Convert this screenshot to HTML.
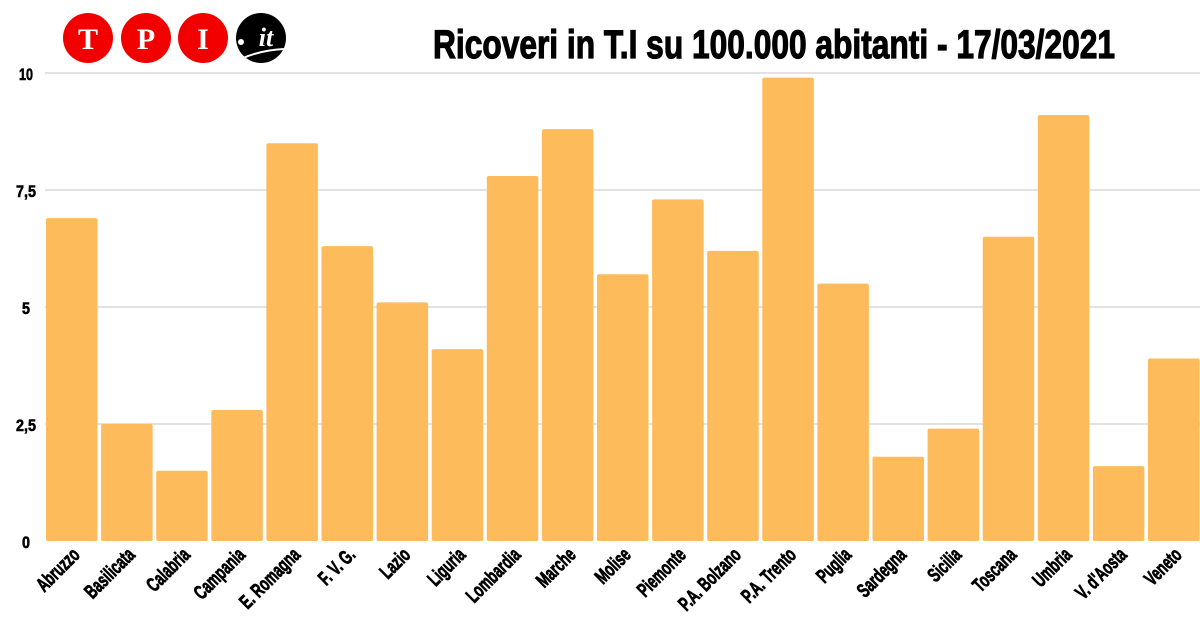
<!DOCTYPE html>
<html><head><meta charset="utf-8"><style>body{margin:0;background:#fff}svg{display:block}</style></head>
<body>
<svg width="1200" height="630" xmlns="http://www.w3.org/2000/svg" font-family="'Liberation Sans',sans-serif" font-weight="bold">
<rect width="1200" height="630" fill="#fff"/>
<g stroke="#d9d9d9" stroke-width="1.5">
<line x1="45" x2="1200" y1="73" y2="73"/><line x1="45" x2="1200" y1="190" y2="190"/>
<line x1="45" x2="1200" y1="307" y2="307"/><line x1="45" x2="1200" y1="424" y2="424"/>
</g>
<g font-size="17" fill="#000" stroke="#000" stroke-width="0.6" text-anchor="middle">
<text x="26" y="80" textLength="14" lengthAdjust="spacingAndGlyphs">10</text>
<text x="26" y="197" textLength="20" lengthAdjust="spacingAndGlyphs">7,5</text>
<text x="26" y="314" textLength="8" lengthAdjust="spacingAndGlyphs">5</text>
<text x="26" y="431" textLength="20" lengthAdjust="spacingAndGlyphs">2,5</text>
<text x="26" y="548" textLength="8" lengthAdjust="spacingAndGlyphs">0</text>
</g>
<g id="bars" fill="#fdbb5b"></g>
<g id="labels" font-size="20" fill="#000" stroke="#000" stroke-width="0.8"></g>
<g font-family="'Liberation Serif',serif" font-weight="bold" font-size="30" text-anchor="middle" fill="#fff">
<circle cx="88" cy="38" r="25" fill="#f20000"/><text x="88" y="49">T</text>
<circle cx="146" cy="38" r="25" fill="#f20000"/><text x="146" y="49">P</text>
<circle cx="203" cy="38" r="25" fill="#f20000"/><text x="203" y="49">I</text>
<circle cx="261" cy="38" r="25" fill="#000"/><text x="266" y="46" font-style="italic" font-size="26">it</text>
<circle cx="241" cy="42" r="3" fill="#fff"/>
<path d="M243 58 Q262 50 284 49" stroke="#fff" stroke-width="2" fill="none"/>
</g>
<text x="433" y="58" font-size="40" fill="#000" stroke="#000" stroke-width="1.2" textLength="682" lengthAdjust="spacingAndGlyphs">Ricoveri in T.I su 100.000 abitanti - 17/03/2021</text>
<script>
var d=[["Abruzzo",6.9],["Basilicata",2.5],["Calabria",1.5],["Campania",2.8],["E. Romagna",8.5],["F. V. G.",6.3],["Lazio",5.1],["Liguria",4.1],["Lombardia",7.8],["Marche",8.8],["Molise",5.7],["Piemonte",7.3],["P.A. Bolzano",6.2],["P.A. Trento",9.9],["Puglia",5.5],["Sardegna",1.8],["Sicilia",2.4],["Toscana",6.5],["Umbria",9.1],["V. d'Aosta",1.6],["Veneto",3.9]];
var ns="http://www.w3.org/2000/svg",b=document.getElementById("bars"),l=document.getElementById("labels");
d.forEach(function(e,i){var x=46+i*55.1,h=e[1]*46.8;
var r=document.createElementNS(ns,"rect");r.setAttribute("x",x);r.setAttribute("y",541-h);r.setAttribute("width",51.5);r.setAttribute("height",h);r.setAttribute("rx",2);b.appendChild(r);
var t=document.createElementNS(ns,"text");var cx=x+35,cy=556;t.setAttribute("x",0);t.setAttribute("y",0);t.setAttribute("text-anchor","end");t.setAttribute("transform","translate("+cx+" "+cy+") rotate(-45) scale(0.66 1)");t.textContent=e[0];l.appendChild(t);});
</script>
</svg>
</body></html>
